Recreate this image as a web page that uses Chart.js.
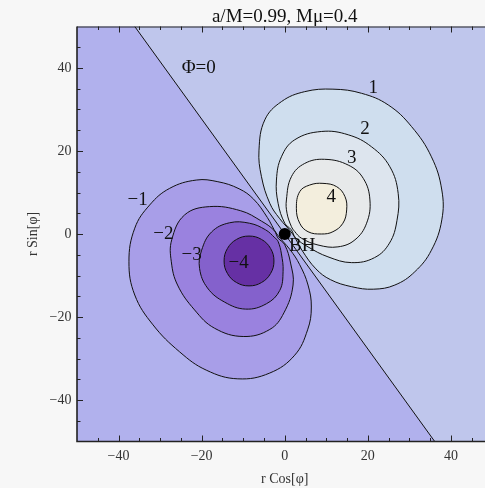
<!DOCTYPE html>
<html>
<head>
<meta charset="utf-8">
<title>Field contours</title>
<script src="https://cdn.jsdelivr.net/npm/chart.js@4.4.0/dist/chart.umd.min.js"></script>
<style>
  html, body { margin: 0; padding: 0; background: #f7f7f7; overflow: hidden; }
  #wrap { width: 485px; height: 488px; overflow: hidden; }
  canvas { display: block; }
</style>
</head>
<body>
<div id="wrap"><canvas id="chart" width="500" height="488"></canvas></div>
<script>
// contour lines, (r Cos[phi], r Sin[phi]) pairs
const contourP1 = [[37.8, 10.6], [37.8, 3.4], [35.3, -3.9], [31.3, -9.1], [26.5, -12.3], [21.3, -13.3], [16.1, -12.7], [11.0, -11.0], [7.5, -8.4], [4.2, -4.0], [1.9, 0.0], [-1.3, 3.8], [-3.6, 7.4], [-5.6, 13.8], [-6.2, 20.2], [-4.8, 27.5], [-0.8, 31.9], [4.8, 34.3], [11.6, 34.9], [18.5, 33.9], [24.9, 31.1], [30.5, 25.9], [35.3, 18.6], [37.8, 10.6]];
const contourP2 = [[27.3, 9.8], [27.0, 3.2], [25.2, -2.2], [21.6, -5.7], [16.1, -6.9], [10.4, -5.5], [5.6, -3.1], [2.6, -0.9], [1.6, 1.0], [0.0, 2.6], [-1.6, 7.4], [-2.0, 13.0], [-0.8, 18.6], [2.4, 22.7], [8.8, 24.7], [15.3, 23.9], [20.9, 21.0], [25.3, 16.2], [27.3, 9.8]];
const contourP3 = [[20.5, 8.2], [19.7, 2.6], [16.9, -1.4], [12.8, -3.1], [8.0, -2.65], [4.0, -1.0], [2.4, 0.6], [1.6, 1.8], [0.55, 5.0], [0.4, 8.2], [1.6, 13.8], [4.8, 17.0], [9.6, 18.0], [15.3, 16.6], [18.9, 13.4], [20.5, 8.2]];
const contourP4 = [[14.9, 5.8], [14.0, 2.6], [11.6, 0.55], [8.8, 0.0], [5.6, 0.55], [3.6, 2.6], [2.8, 6.2], [3.6, 10.2], [6.0, 11.8], [9.2, 12.2], [12.5, 11.4], [14.5, 9.0], [14.9, 5.8]];
const contourN1 = [[-37.5, -6.7], [-36.1, 1.4], [-32.5, 7.0], [-27.7, 11.0], [-21.3, 13.0], [-16.1, 12.6], [-11.0, 10.9], [-7.5, 8.4], [-4.2, 4.0], [-1.9, 0.0], [1.3, -3.8], [3.6, -7.4], [5.6, -12.3], [6.4, -17.6], [5.5, -23.1], [2.4, -29.2], [-3.6, -33.5], [-11.3, -34.9], [-18.9, -32.8], [-25.3, -28.4], [-31.7, -21.9], [-36.1, -14.7], [-37.5, -6.7]];
const contourN2 = [[-27.3, -6.7], [-27.2, -1.4], [-24.1, 4.6], [-18.1, 6.6], [-10.6, 5.6], [-5.6, 3.1], [-2.6, 0.9], [-1.6, -1.0], [0.0, -2.6], [1.4, -7.0], [2.0, -12.3], [-0.2, -19.0], [-3.6, -23.0], [-10.0, -24.7], [-16.9, -22.7], [-21.7, -18.3], [-25.8, -12.3], [-27.3, -6.7]];
const contourN3 = [[-20.5, -8.3], [-20.0, -3.9], [-17.6, 0.5], [-13.3, 2.7], [-8.5, 2.6], [-4.6, 1.0], [-2.4, -0.9], [-1.6, -1.8], [-0.8, -4.8], [-0.4, -9.0], [-1.2, -13.6], [-4.4, -16.8], [-9.4, -18.1], [-14.5, -16.4], [-18.6, -13.0], [-20.5, -8.3]];
const contourN4 = [[-2.6, -6.5], [-3.4, -3.5], [-5.6, -1.3], [-8.6, -0.5], [-11.6, -1.3], [-13.8, -3.5], [-14.6, -6.5], [-13.8, -9.5], [-11.6, -11.7], [-8.6, -12.5], [-5.6, -11.7], [-3.4, -9.5], [-2.6, -6.5]];

// Phi = 0 line through the hole, and the hole itself
const phiZeroLine = [[-36.1, 50], [36.1, -50]];
const blackHole = [0, 0];

// contour labels
const labelText = ['1', '2', '3', '4', '\u22121', '\u22122', '\u22123', '\u22124', '\u03A6=0', 'BH'];
const labelX = [21.3, 19.3, 16.1, 11.2, -35.4, -29.2, -22.4, -11.1, -20.7, 4.2];
const labelY = [35.1, 25.2, 18.2, 9.0, 8.2, -0.1, -5.1, -7.1, 40.0, -2.9];

// axes
const axisMin = -50, axisMax = 50;
const tickValues = [-40, -20, 0, 20, 40];
const tickLabels = ['\u221240', '\u221220', '0', '20', '40'];
const minorStep = 5;

const colors = {
  p4: '#f3eedd', p3: '#e7e9ea', p2: '#dde5ee', p1: '#cfdeee',
  n1: '#a89ee8', n2: '#9a82df', n3: '#8461cc', n4: '#6630a4',
  leftHalf: '#b1b1ed', rightHalf: '#bfc6ec'
};
const lineColor = '#111';
const hidden = 'rgba(0,0,0,0)';

const toXY = pts => pts.map(p => ({ x: p[0], y: p[1] }));

// a closed curve: repeat its neighbours at both ends so the spline joins smoothly,
// the two extra end pieces are only used for the curvature and are not stroked
const closedLoop = pts => toXY([pts[pts.length - 2], ...pts, pts[1]]);

function contourSet(pts, color) {
  const last = pts.length + 1;
  return {
    data: closedLoop(pts),
    borderColor: lineColor,
    borderWidth: 1,
    backgroundColor: color,
    fill: 'shape',
    tension: 0.4,
    pointRadius: 0,
    segment: {
      borderColor: c => (c.p0DataIndex === 0 || c.p1DataIndex === last) ? hidden : lineColor
    }
  };
}

const leftHalf = [[axisMin, axisMax], phiZeroLine[0], phiZeroLine[1], [axisMin, axisMin]];

// area background and frame with inward ticks
const framePlugin = {
  id: 'frame',
  beforeDraw(chart) {
    const { ctx, chartArea: a } = chart;
    ctx.save();
    ctx.fillStyle = colors.rightHalf;
    ctx.fillRect(a.left, a.top, a.right - a.left, a.bottom - a.top);
    ctx.restore();
  },
  afterDatasetsDraw(chart) {
    const { ctx, chartArea: a, scales } = chart;
    const xs = scales.x, ys = scales.y;
    ctx.save();
    ctx.strokeStyle = '#222';
    ctx.lineWidth = 1;
    ctx.beginPath();
    ctx.moveTo(a.left, a.top + 0.5);
    ctx.lineTo(a.right, a.top + 0.5);
    ctx.stroke();
    ctx.lineWidth = 1.6;
    ctx.beginPath();
    ctx.moveTo(a.left, a.top);
    ctx.lineTo(a.left, a.bottom);
    ctx.lineTo(a.right, a.bottom);
    ctx.stroke();
    ctx.lineWidth = 1;
    for (let v = axisMin + minorStep; v < axisMax; v += minorStep) {
      const len = tickValues.includes(v) ? 6 : 3.5;
      const px = Math.round(xs.getPixelForValue(v)) + 0.5;
      const py = Math.round(ys.getPixelForValue(v)) + 0.5;
      ctx.beginPath();
      ctx.moveTo(px, a.bottom); ctx.lineTo(px, a.bottom - len);
      ctx.moveTo(px, a.top); ctx.lineTo(px, a.top + len);
      ctx.moveTo(a.left, py); ctx.lineTo(a.left + len, py);
      ctx.stroke();
    }
    ctx.restore();
  }
};

const labelPlugin = {
  id: 'contourLabels',
  afterDatasetsDraw(chart) {
    const { ctx, scales } = chart;
    ctx.save();
    ctx.font = '19px "Liberation Serif", "DejaVu Serif", serif';
    ctx.fillStyle = '#111';
    ctx.textAlign = 'center';
    ctx.textBaseline = 'middle';
    labelText.forEach((t, i) => {
      ctx.fillText(t, scales.x.getPixelForValue(labelX[i]), scales.y.getPixelForValue(labelY[i]));
    });
    ctx.restore();
  }
};

Chart.defaults.font.family = '"Liberation Serif", "DejaVu Serif", serif';
Chart.defaults.color = '#222';

const axisTicks = scale => { scale.ticks = tickValues.map(v => ({ value: v })); };

new Chart(document.getElementById('chart'), {
  type: 'line',
  data: {
    datasets: [
      { data: [{ x: blackHole[0], y: blackHole[1] }], showLine: false, pointRadius: 6, pointBackgroundColor: '#000', pointBorderWidth: 0 },
      contourSet(contourP4, colors.p4),
      contourSet(contourP3, colors.p3),
      contourSet(contourP2, colors.p2),
      contourSet(contourP1, colors.p1),
      contourSet(contourN4, colors.n4),
      contourSet(contourN3, colors.n3),
      contourSet(contourN2, colors.n2),
      contourSet(contourN1, colors.n1),
      { data: toXY(phiZeroLine), borderColor: lineColor, borderWidth: 1, pointRadius: 0, fill: false },
      { data: toXY(leftHalf), borderWidth: 0, borderColor: hidden, backgroundColor: colors.leftHalf, fill: 'shape', pointRadius: 0 }
    ]
  },
  options: {
    responsive: false,
    animation: false,
    layout: { padding: { left: 0, right: 7.5, top: 0, bottom: 0 } },
    plugins: {
      legend: { display: false },
      tooltip: { enabled: false },
      title: {
        display: true,
        fullSize: false,
        text: 'a/M=0.99, M\u03BC=0.4',
        font: { size: 19, weight: 'normal', lineHeight: 1 },
        color: '#111',
        padding: { top: 7.2, bottom: 0.3 }
      }
    },
    scales: {
      x: {
        type: 'linear',
        min: axisMin, max: axisMax,
        grid: { display: false, drawTicks: false },
        border: { display: false },
        afterBuildTicks: axisTicks,
        afterFit: s => { s.height = 46.5; },
        ticks: { padding: 6, font: { size: 14 }, color: '#333', callback: (v, i) => tickLabels[i] },
        title: { display: true, text: 'r Cos[\u03C6]', font: { size: 14 }, color: '#333', padding: { top: 0, bottom: 0 } }
      },
      y: {
        type: 'linear',
        min: axisMin, max: axisMax,
        grid: { display: false, drawTicks: false },
        border: { display: false },
        afterBuildTicks: axisTicks,
        afterFit: s => { s.width = 77; },
        ticks: { padding: 5.5, font: { size: 14 }, color: '#333', callback: (v, i) => tickLabels[i] },
        title: { display: true, text: 'r Sin[\u03C6]', font: { size: 14 }, color: '#333', padding: { top: 24.6, bottom: 0 } }
      }
    }
  },
  plugins: [framePlugin, labelPlugin]
});
</script>
</body>
</html>
